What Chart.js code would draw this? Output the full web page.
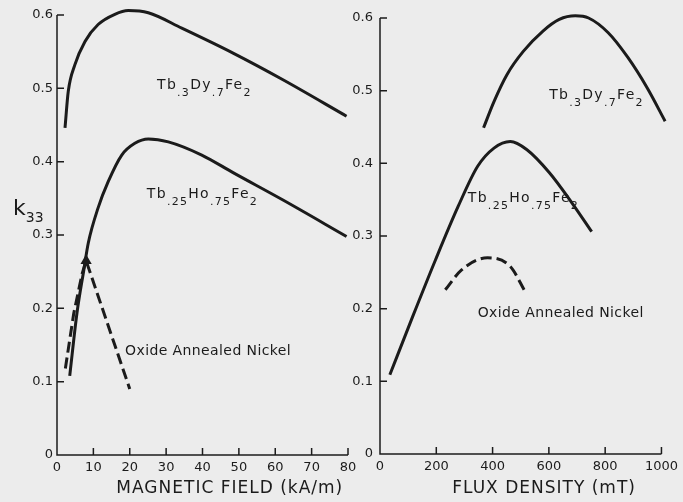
<!DOCTYPE html>
<html>
<head>
<meta charset="utf-8">
<script src="https://cdn.jsdelivr.net/npm/chart.js@4"></script>
<style>
  html, body { margin: 0; padding: 0; background: #ececec; }
  #wrap { position: relative; width: 683px; height: 502px; overflow: hidden; }
  canvas { position: absolute; top: 0; }
  #fieldChart { left: 0; }
  #fluxChart { left: 335px; }
</style>
</head>
<body>
<div id="wrap">
  <canvas id="fieldChart" width="365" height="502"></canvas>
  <canvas id="fluxChart" width="348" height="502"></canvas>
</div>
<script>
// ============================================
// k33 coupling factor data
// ============================================

// left panel: vs magnetic field (kA/m)
const fieldDyFe = [2.2, 3.1, 4.9, 7.7, 11.3, 15.9, 19.6, 25.1, 34.3, 48.4, 62, 79.6];
const k33FieldDyFe = [0.446, 0.496, 0.532, 0.564, 0.587, 0.601, 0.606, 0.603, 0.582, 0.548, 0.512, 0.462];

const fieldHoFe = [3.5, 5.5, 7.4, 8.6, 11.3, 14.1, 17.8, 21.4, 25.1, 30.6, 39.8, 48.4, 62, 79.6];
const k33FieldHoFe = [0.108, 0.194, 0.253, 0.289, 0.337, 0.373, 0.409, 0.425, 0.431, 0.427, 0.409, 0.385, 0.348, 0.298];

const fieldNi = [2.3, 4.6, 6.9, 8.0, 20.0];
const k33FieldNi = [0.118, 0.193, 0.247, 0.265, 0.090];

// right panel: vs flux density (mT)
const fluxDyFe = [368, 405, 451, 509, 579, 637, 694, 741, 810, 880, 949, 1013];
const k33FluxDyFe = [0.449, 0.485, 0.522, 0.554, 0.582, 0.598, 0.603, 0.600, 0.580, 0.546, 0.504, 0.458];

const fluxHoFe = [35, 116, 197, 278, 347, 405, 463, 521, 602, 683, 752];
const k33FluxHoFe = [0.109, 0.189, 0.267, 0.341, 0.396, 0.421, 0.430, 0.419, 0.387, 0.345, 0.306];

const fluxNi = [232, 289, 382, 463, 515];
const k33FluxNi = [0.226, 0.253, 0.270, 0.258, 0.224];

const k33Ticks = [0, 0.1, 0.2, 0.3, 0.4, 0.5, 0.6];

const INK = '#1b1b1b';
const FONT = '"DejaVu Sans", sans-serif';

function pts(xs, ys) {
    return xs.map((x, i) => ({ x, y: ys[i] }));
}

function curve(xs, ys, dashed, smooth) {
    return {
        data: pts(xs, ys),
        borderColor: INK,
        backgroundColor: INK,
        borderWidth: 3,
        borderDash: dashed ? [11, 5] : [],
        borderCapStyle: 'butt',
        pointRadius: 0,
        tension: smooth ? 0.4 : 0,
        cubicInterpolationMode: smooth ? 'monotone' : 'default',
        clip: false
    };
}

// axis lines plus short tick marks pointing into the plot
const tickPlugin = {
    id: 'inTicks',
    afterDatasetsDraw(chart) {
        const ctx = chart.ctx, a = chart.chartArea;
        const xs = chart.scales.x, ys = chart.scales.y;
        ctx.save();
        ctx.strokeStyle = INK;
        ctx.lineWidth = 1.5;
        ctx.setLineDash([]);
        ctx.beginPath();
        ctx.moveTo(a.left, a.top);
        ctx.lineTo(a.left, a.bottom);
        ctx.lineTo(a.right, a.bottom);
        xs.ticks.forEach(t => {
            const px = xs.getPixelForValue(t.value);
            ctx.moveTo(px, a.bottom);
            ctx.lineTo(px, a.bottom - 7);
        });
        ys.ticks.forEach(t => {
            const py = ys.getPixelForValue(t.value);
            ctx.moveTo(a.left, py);
            ctx.lineTo(a.left + 7, py);
        });
        ctx.stroke();
        ctx.restore();
    }
};

// formula / label text drawn from data coordinates
const textPlugin = {
    id: 'panelText',
    afterDraw(chart, args, opts) {
        const ctx = chart.ctx;
        const xs = chart.scales.x, ys = chart.scales.y;
        ctx.save();
        ctx.fillStyle = INK;
        ctx.textBaseline = 'alphabetic';
        (opts.items || []).forEach(item => {
            let x = xs.getPixelForValue(item.at[0]);
            const y = ys.getPixelForValue(item.at[1]);
            ctx.letterSpacing = item.spacing || '0px';
            if (item.center) {
                ctx.font = item.font;
                ctx.textAlign = 'center';
                ctx.fillText(item.text, x, y);
                return;
            }
            ctx.textAlign = 'left';
            item.parts.forEach(([txt, sub]) => {
                ctx.font = sub ? item.subFont : item.font;
                ctx.fillText(txt, x, y + (sub ? item.subShift : 0));
                x += ctx.measureText(txt).width;
            });
        });
        ctx.restore();
    }
};

const DYFE = [['Tb', 0], ['.3', 1], ['Dy', 0], ['.7', 1], ['Fe', 0], ['2', 1]];
const HOFE = [['Tb', 0], ['.25', 1], ['Ho', 0], ['.75', 1], ['Fe', 0], ['2', 1]];

function formula(parts, at) {
    return { parts, at, font: '14px ' + FONT, subFont: '11px ' + FONT, subShift: 7, spacing: '1.3px' };
}

function plain(text, at, size, spacing) {
    return { parts: [[text, 0]], at, font: size + 'px ' + FONT, spacing };
}

function makeChart(id, opt) {
    return new Chart(document.getElementById(id), {
        type: 'line',
        data: { datasets: opt.datasets },
        options: {
            responsive: false,
            animation: false,
            events: [],
            layout: { padding: opt.padding },
            plugins: {
                legend: { display: false },
                tooltip: { enabled: false },
                panelText: { items: opt.texts }
            },
            scales: {
                x: {
                    type: 'linear',
                    min: 0, max: opt.xMax,
                    afterBuildTicks: s => { s.ticks = opt.xTicks.map(v => ({ value: v })); },
                    afterFit: s => { s.height = opt.xHeight; },
                    border: { display: false },
                    grid: { display: false, drawTicks: false },
                    ticks: { color: INK, font: { family: FONT, size: 13 }, padding: 5, maxRotation: 0,
                             callback: v => String(v) }
                },
                y: {
                    type: 'linear',
                    min: 0, max: 0.6,
                    afterBuildTicks: s => { s.ticks = k33Ticks.map(v => ({ value: v })); },
                    afterFit: s => { s.width = opt.yWidth; },
                    border: { display: false },
                    grid: { display: false, drawTicks: false },
                    ticks: { color: INK, font: { family: FONT, size: 13 }, padding: opt.yPad,
                             callback: v => v === 0 ? '0' : v.toFixed(1) }
                }
            }
        },
        plugins: [tickPlugin, textPlugin]
    });
}

const niLeft = curve(fieldNi, k33FieldNi, true, false);
niLeft.pointStyle = 'triangle';
niLeft.pointRadius = c => c.dataIndex === 3 ? 3.5 : 0;

makeChart('fieldChart', {
    padding: { top: 15, right: 17, left: 0, bottom: 0 },
    xMax: 80,
    xTicks: [0, 10, 20, 30, 40, 50, 60, 70, 80],
    xHeight: 47,
    yWidth: 57,
    yPad: 4,
    datasets: [
        curve(fieldDyFe, k33FieldDyFe, false, true),
        curve(fieldHoFe, k33FieldHoFe, false, true),
        niLeft
    ],
    texts: [
        formula(DYFE, [27.5, 0.499]),
        formula(HOFE, [24.7, 0.351]),
        plain('Oxide Annealed Nickel', [18.7, 0.136], 14, '0.4px'),
        { parts: [['k', 0], ['33', 1]], at: [-12.1, 0.327], font: '22px ' + FONT, subFont: '14px ' + FONT, subShift: 7 },
        { text: 'MAGNETIC FIELD (kA/m)', center: true, at: [47.5, -0.052], font: '17px ' + FONT, spacing: '1px' }
    ]
});

makeChart('fluxChart', {
    padding: { top: 18, right: 15, left: 0, bottom: 0 },
    xMax: 1000,
    xTicks: [0, 200, 400, 600, 800, 1000],
    xHeight: 48,
    yWidth: 45,
    yPad: 7,
    datasets: [
        curve(fluxDyFe, k33FluxDyFe, false, true),
        curve(fluxHoFe, k33FluxHoFe, false, true),
        curve(fluxNi, k33FluxNi, true, true)
    ],
    texts: [
        formula(DYFE, [601, 0.489]),
        formula(HOFE, [312, 0.347]),
        plain('Oxide Annealed Nickel', [347, 0.189], 14, '0.4px'),
        { text: 'FLUX DENSITY (mT)', center: true, at: [583, -0.054], font: '17px ' + FONT, spacing: '1px' }
    ]
});
</script>
</body>
</html>
